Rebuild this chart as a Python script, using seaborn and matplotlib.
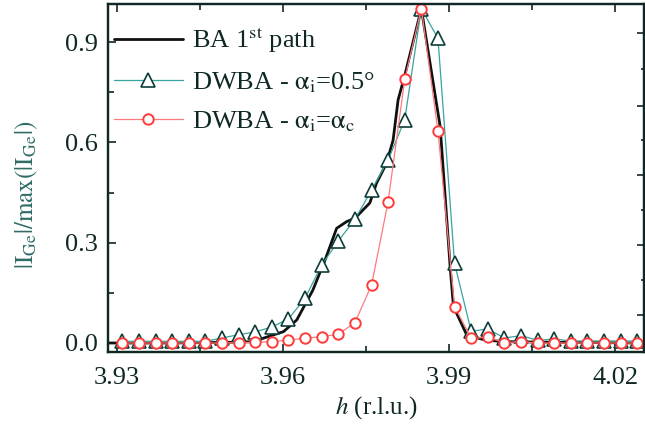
import numpy as np
import pandas as pd
import seaborn as sns
import matplotlib.pyplot as plt

# h positions of the DWBA points (r.l.u.)
h = [3.931, 3.934, 3.937, 3.940, 3.943, 3.946, 3.949, 3.952, 3.955, 3.958,
     3.961, 3.964, 3.967, 3.970, 3.973, 3.976, 3.979, 3.982, 3.985, 3.988,
     3.991, 3.994, 3.997, 4.000, 4.003, 4.006, 4.009, 4.012, 4.015, 4.018,
     4.021, 4.024]

# DWBA - alpha_i = 0.5 deg (triangles)
dwba_05 = [0.005, 0.005, 0.005, 0.005, 0.005, 0.005, 0.015, 0.025, 0.033, 0.048,
           0.072, 0.134, 0.233, 0.305, 0.370, 0.457, 0.547, 0.668, 1.000, 0.911,
           0.238, 0.035, 0.042, 0.015, 0.022, 0.008, 0.012, 0.006, 0.006, 0.006,
           0.006, 0.006]

# DWBA - alpha_i = alpha_c (circles)
dwba_c = [0.0, 0.0, 0.0, 0.0, 0.0, 0.0, 0.0, 0.001, 0.002, 0.004,
          0.009, 0.014, 0.019, 0.026, 0.061, 0.173, 0.423, 0.789, 1.000, 0.634,
          0.109, 0.014, 0.017, 0.001, 0.004, 0.0, 0.0, 0.0, 0.0, 0.0,
          0.0, 0.0]

# BA 1st path (solid curve)
ba_h = [3.9285, 3.940, 3.950, 3.955, 3.9564, 3.9601, 3.9625, 3.9654, 3.9676,
        3.9697, 3.9715, 3.973, 3.9757, 3.9769, 3.9787, 3.9799, 3.9808, 3.982,
        3.985, 3.9884, 3.9902, 3.9908, 3.9932, 3.9965, 4.000, 4.010, 4.0253]
ba_val = [0.0, 0.0, 0.002, 0.004, 0.014, 0.034, 0.069, 0.158, 0.248,
          0.343, 0.363, 0.373, 0.419, 0.478, 0.537, 0.607, 0.727, 0.800,
          1.000, 0.647, 0.228, 0.109, 0.024, 0.009, 0.004, 0.002, 0.0]

right_ticks = [0.084, 0.293, 0.503, 0.709, 0.927]
right_minor = [0.188, 0.398, 0.606, 0.818]

sns.set_style("ticks")
plt.rcParams['font.family'] = ['Liberation Serif', 'DejaVu Serif']
plt.rcParams['mathtext.fontset'] = 'stix'

txt = '#0f2826'
teal = '#3aa39d'
tri_edge = '#0d3d3a'
red = '#ff3a3a'

df = pd.DataFrame({'h': h, 'a05': dwba_05, 'ac': dwba_c})
ba = pd.DataFrame({'h': ba_h, 'v': ba_val})

fig = plt.figure(figsize=(6.45, 4.32), dpi=100)
ax = fig.add_axes([0.1674, 0.1859, 0.8318, 0.8048])

sns.lineplot(data=ba, x='h', y='v', ax=ax, color='#111111', linewidth=2.0,
             label=r'BA 1$^{\mathrm{st}}$ path', zorder=2)
sns.lineplot(data=df, x='h', y='a05', ax=ax, color=teal, linewidth=0.9,
             marker='^', markersize=9.5, markerfacecolor='white',
             markeredgecolor=tri_edge, markeredgewidth=1.2,
             label=r'DWBA - $\mathrm{\alpha_i}$=0.5°', zorder=3)
sns.lineplot(data=df, x='h', y='ac', ax=ax, color='#ff7a7a', linewidth=0.9,
             marker='o', markersize=7.5, markerfacecolor='white',
             markeredgecolor=red, markeredgewidth=1.4,
             label=r'DWBA - $\mathrm{\alpha_i}$=$\mathrm{\alpha_c}$', zorder=4)

ax.set_xlim(3.9284, 4.0253)
ax.set_ylim(-0.026, 1.0138)
ax.set_xticks([3.93, 3.96, 3.99, 4.02])
ax.set_xticks([3.945, 3.975, 4.005], minor=True)
ax.set_yticks([0.0, 0.3, 0.6, 0.9])
ax.set_yticks([0.15, 0.45, 0.75], minor=True)
ax.set_yticklabels(['0.0', '0.3', '0.6', '0.9'])
ax.tick_params(which='both', direction='in', top=True, right=False,
               labelsize=19, colors=txt, width=1.2)
ax.tick_params(which='major', length=6)
ax.tick_params(which='minor', length=4)
ax.tick_params(axis='x', pad=11)
ax.tick_params(axis='y', pad=7)

ax2 = ax.twinx()
ax2.set_ylim(ax.get_ylim())
ax2.set_yticks(right_ticks)
ax2.set_yticks(right_minor, minor=True)
ax2.tick_params(which='both', direction='in', labelright=False, colors=txt, width=1.2)
ax2.tick_params(which='major', length=5)
ax2.tick_params(which='minor', length=2.5)

for a in (ax, ax2):
    for s in a.spines.values():
        s.set_linewidth(1.6)
        s.set_color(txt)

ax.set_xlabel(r'$h$ (r.l.u.)', fontsize=18, color=txt, labelpad=4)
ax.set_ylabel(r'$|\mathrm{I_{Ge}}|/\mathrm{max}(|\mathrm{I_{Ge}}|)$',
              fontsize=18, color='#2f6b66')
ax.yaxis.set_label_coords(-0.126, 0.45)

leg = ax.legend(loc='upper left', bbox_to_anchor=(-0.018, 0.985), frameon=False,
                fontsize=19, handlelength=2.6, handletextpad=0.35,
                labelspacing=0.57, borderaxespad=0.2)
for t in leg.get_texts():
    t.set_color(txt)

fig.savefig('out.png', dpi=100)
